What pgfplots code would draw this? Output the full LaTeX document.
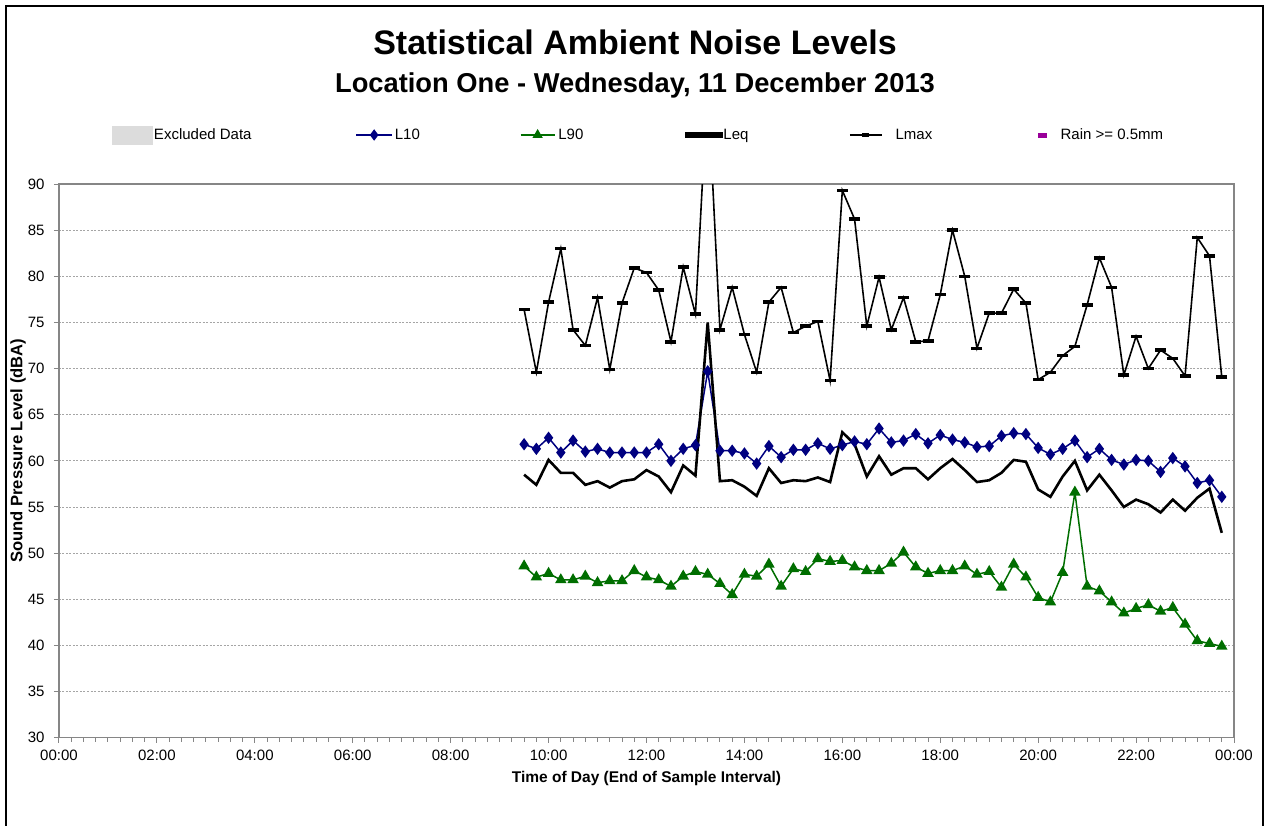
\documentclass[border=0pt]{standalone}
\usepackage{pgfplots}
\pgfplotsset{compat=1.18}
\usepackage{pgfplotstable}
\usepackage{fontspec}
\setmainfont{Liberation Sans}
\definecolor{lnavy}{RGB}{0,0,128}
\definecolor{lgreen}{RGB}{0,110,0}
\definecolor{lgrid}{RGB}{165,165,165}
\definecolor{laxis}{RGB}{134,134,134}
\definecolor{lexcl}{RGB}{220,220,220}
\definecolor{lrain}{RGB}{153,0,153}

\pgfplotsset{
  legA/.style={legend image code/.code={\path[draw=none,fill=none] (0pt,-6pt) rectangle (36pt,6pt);
     \draw[##1, line width=1.5pt, mark repeat=2, mark phase=2, mark size=4.5pt] plot coordinates {(0pt,0pt) (18pt,0pt) (36pt,0pt)};}},
  legB/.style={legend image code/.code={\path[draw=none,fill=none] (0pt,-6pt) rectangle (34pt,6pt);
     \draw[##1, line width=1.5pt, mark repeat=2, mark phase=2, mark size=4.5pt] plot coordinates {(0pt,0pt) (17pt,0pt) (34pt,0pt)};}},
  legC/.style={legend image code/.code={\path[draw=none,fill=none] (0pt,-6pt) rectangle (35pt,6pt);
     \fill[black] (0pt,-1.5pt) rectangle (35pt,1.5pt);}},
  legD/.style={legend image code/.code={\path[draw=none,fill=none] (0pt,-6pt) rectangle (32pt,6pt);
     \draw[##1, line width=1.6pt, mark repeat=2, mark phase=2, mark size=3.5pt] plot coordinates {(0pt,0pt) (16pt,0pt) (32pt,0pt)};}},
}

\pgfplotstableread{
t     l10   l90   leq   lmax
9.50  61.8  48.6  58.5  76.4
9.75  61.3  47.4  57.4  69.6
10.00 62.5  47.8  60.1  77.2
10.25 60.9  47.1  58.7  83.0
10.50 62.2  47.1  58.7  74.2
10.75 61.0  47.5  57.4  72.5
11.00 61.3  46.8  57.8  77.7
11.25 60.9  47.0  57.1  69.9
11.50 60.9  47.0  57.8  77.1
11.75 60.9  48.1  58.0  80.9
12.00 60.9  47.4  59.0  80.4
12.25 61.8  47.1  58.3  78.5
12.50 60.0  46.4  56.6  72.9
12.75 61.3  47.5  59.5  81.0
13.00 61.7  48.0  58.4  75.9
13.25 69.7  47.7  75.0  101.0
13.50 61.1  46.7  57.8  74.2
13.75 61.1  45.5  57.9  78.8
14.00 60.8  47.7  57.2  73.7
14.25 59.7  47.5  56.2  69.6
14.50 61.6  48.8  59.2  77.2
14.75 60.4  46.4  57.6  78.8
15.00 61.2  48.3  57.9  73.9
15.25 61.2  48.0  57.8  74.6
15.50 61.9  49.4  58.2  75.1
15.75 61.3  49.1  57.7  68.7
16.00 61.7  49.2  63.1  89.3
16.25 62.1  48.5  61.8  86.2
16.50 61.8  48.1  58.3  74.6
16.75 63.5  48.1  60.5  79.9
17.00 62.0  48.9  58.5  74.2
17.25 62.2  50.1  59.2  77.7
17.50 62.9  48.5  59.2  72.9
17.75 61.9  47.8  58.0  73.0
18.00 62.8  48.1  59.2  78.0
18.25 62.3  48.1  60.2  85.0
18.50 62.0  48.6  59.0  80.0
18.75 61.5  47.7  57.7  72.2
19.00 61.6  48.0  57.9  76.0
19.25 62.7  46.3  58.7  76.0
19.50 63.0  48.8  60.1  78.6
19.75 62.9  47.4  59.9  77.1
20.00 61.4  45.2  56.9  68.8
20.25 60.7  44.7  56.1  69.6
20.50 61.3  47.9  58.3  71.4
20.75 62.2  56.6  60.0  72.4
21.00 60.4  46.4  56.8  76.9
21.25 61.3  45.9  58.5  82.0
21.50 60.1  44.7  56.8  78.8
21.75 59.6  43.5  55.0  69.3
22.00 60.1  44.0  55.8  73.5
22.25 60.0  44.4  55.3  70.0
22.50 58.8  43.7  54.4  72.0
22.75 60.3  44.1  55.8  71.1
23.00 59.4  42.3  54.6  69.2
23.25 57.6  40.5  56.0  84.2
23.50 57.9  40.2  57.0  82.2
23.75 56.1  39.9  52.2  69.1
}\noisedata

\begin{document}
\begin{tikzpicture}[x=1pt,y=1pt]
\useasboundingbox (0,0) rectangle (1268,825);
\draw[line width=2pt] (6,-20) -- (6,819) -- (1263,819) -- (1263,-20);
\node[font=\fontsize{34}{40}\selectfont\bfseries, anchor=base] at (635,770) {Statistical Ambient Noise Levels};
\node[font=\fontsize{27.3}{32}\selectfont\bfseries, anchor=base] at (635,732) {Location One - Wednesday, 11 December 2013};
\begin{axis}[
  at={(59pt,87.3pt)}, anchor=south west,
  width=1175pt, height=553.7pt, scale only axis,
  xmin=0, xmax=24, ymin=30, ymax=90,
  axis line style={laxis, line width=1.2pt},
  xtick={0,2,...,24},
  xticklabels={00:00,02:00,04:00,06:00,08:00,10:00,12:00,14:00,16:00,18:00,20:00,22:00,00:00},
  minor x tick num=7,
  ytick={30,35,...,90},
  xtick pos=bottom, ytick pos=left,
  tick align=outside,
  major tick length=5pt, minor tick length=4pt,
  tick style={laxis, line width=1pt},
  ymajorgrids,
  major grid style={lgrid, dash pattern=on 2pt off 1.5pt, line width=0.8pt},
  /pgf/number format/assume math mode=true,
  tick label style={font=\fontsize{15}{18}\selectfont},
  x tick label style={yshift=-4pt},
  y tick label style={xshift=-6pt},
  xlabel={Time of Day (End of Sample Interval)},
  ylabel={Sound Pressure Level (dBA)},
  xlabel style={font=\fontsize{15.5}{18}\selectfont\bfseries, at={(axis description cs:0.5,-0.0728)}, anchor=center},
  ylabel style={font=\fontsize{16.6}{18}\selectfont\bfseries, at={(axis description cs:-0.0349,0.518)}, anchor=center},
  legend columns=6,
  legend style={at={(axis description cs:0.0451,1.0885)}, anchor=west, draw=none, fill=none,
    inner sep=0pt, outer sep=0pt, column sep=0pt,
    font=\fontsize{15}{18}\selectfont, cells={anchor=west}, nodes={inner sep=0pt}},
]
\addlegendimage{legend image code/.code={\fill[lexcl] (0pt,-9pt) rectangle (40pt,9pt);}}
\addlegendentry{\makebox[203pt][l]{\hspace{1.6pt}Excluded Data}}
\addplot[lnavy, line width=1.5pt, mark=diamond*, mark size=5pt, mark options={solid, fill=lnavy}, legA]
  table[x=t, y=l10] {\noisedata};
\addlegendentry{\makebox[127pt][l]{\hspace{2pt}L10}}
\addplot[lgreen, line width=1.5pt, mark=triangle*, mark size=5.2pt, mark options={solid, fill=lgreen}, legB]
  table[x=t, y=l90] {\noisedata};
\addlegendentry{\makebox[130pt][l]{\hspace{3pt}L90}}
\addplot[black, line width=2.6pt, no marks, legC]
  table[x=t, y=leq] {\noisedata};
\addlegendentry{\makebox[126pt][l]{\hspace{0.5pt}Leq}}
\addplot[black, line width=1.6pt, mark=-, mark size=5.5pt, mark options={solid, line width=3.5pt}, legD]
  table[x=t, y=lmax] {\noisedata};
\addlegendentry{\makebox[150pt][l]{\hspace{13pt}Lmax}}
\addlegendimage{legend image code/.code={\path[draw=none,fill=none] (0pt,-6pt) rectangle (20pt,6pt); \fill[lrain] (6pt,-2pt) rectangle (14pt,2pt);}}
\addlegendentry{\hspace{8pt}Rain >= 0.5mm}
\end{axis}
\end{tikzpicture}
\end{document}
